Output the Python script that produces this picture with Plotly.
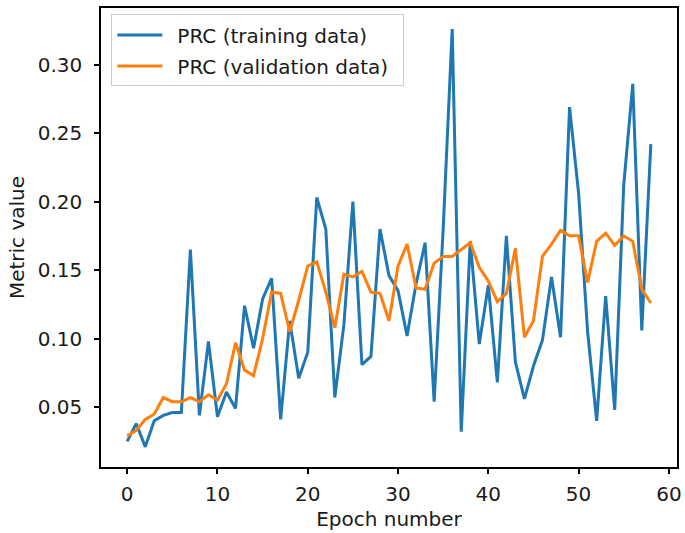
import plotly.graph_objects as go

epochs = list(range(59))

prc_train = [0.025, 0.038, 0.021, 0.040, 0.044, 0.046, 0.046, 0.165, 0.044, 0.098,
             0.043, 0.061, 0.049, 0.124, 0.093, 0.129, 0.144, 0.041, 0.113, 0.071,
             0.090, 0.203, 0.180, 0.057, 0.110, 0.200, 0.081, 0.087, 0.180, 0.146,
             0.135, 0.102, 0.140, 0.170, 0.054, 0.180, 0.326, 0.032, 0.171, 0.096,
             0.139, 0.068, 0.175, 0.083, 0.056, 0.080, 0.099, 0.145, 0.101, 0.269,
             0.206, 0.105, 0.040, 0.131, 0.048, 0.212, 0.286, 0.106, 0.242]

prc_val = [0.029, 0.033, 0.041, 0.045, 0.057, 0.054, 0.054, 0.057, 0.054, 0.059,
           0.055, 0.067, 0.097, 0.077, 0.073, 0.100, 0.134, 0.133, 0.105, 0.128,
           0.153, 0.156, 0.134, 0.108, 0.147, 0.145, 0.149, 0.134, 0.133, 0.113,
           0.153, 0.169, 0.137, 0.136, 0.155, 0.160, 0.160, 0.165, 0.170, 0.152,
           0.142, 0.127, 0.133, 0.166, 0.101, 0.113, 0.160, 0.169, 0.179, 0.175,
           0.175, 0.141, 0.171, 0.177, 0.168, 0.175, 0.171, 0.136, 0.126]

x_ticks = [0, 10, 20, 30, 40, 50, 60]
y_ticks = [0.05, 0.10, 0.15, 0.20, 0.25, 0.30]

fig = go.Figure()
fig.add_trace(go.Scatter(x=epochs, y=prc_train, mode="lines",
                         name="\u2002PRC (training data)", legendgroup="a",
                         line=dict(color="#1f77b4", width=3)))
fig.add_trace(go.Scatter(x=epochs, y=prc_val, mode="lines",
                         name="\u2002PRC (validation data)\u2002", legendgroup="b",
                         line=dict(color="#ff7f0e", width=3)))

txt_font = dict(family="DejaVu Sans", size=20, color="#1a1a1a")

axis_common = dict(showline=True, linecolor="black", linewidth=1.5, mirror=True,
                   ticks="outside", ticklen=5, tickwidth=1.5, tickcolor="black",
                   showgrid=False, zeroline=False, tickfont=txt_font)

fig.update_layout(
    width=685, height=533,
    margin=dict(l=101, r=3, t=8, b=66),
    paper_bgcolor="white", plot_bgcolor="white",
    font=txt_font,
    xaxis=dict(range=[-2.9, 60.9], tickvals=x_ticks, ticklabelstandoff=3,
               title=dict(text="Epoch number", standoff=7, font=txt_font),
               **axis_common),
    yaxis=dict(range=[0.0063, 0.3413], tickvals=y_ticks, tickformat=".2f",
               ticklabelstandoff=8,
               title=dict(text="Metric value", standoff=8, font=txt_font),
               **axis_common),
    legend=dict(x=0.018, y=0.986, xanchor="left", yanchor="top",
                bgcolor="rgba(255,255,255,0.8)", bordercolor="#cccccc",
                borderwidth=1, font=txt_font,
                itemwidth=45, tracegroupgap=2),
    showlegend=True,
)

fig.write_html("out.html", config={"displayModeBar": False},
               post_script="document.body.style.margin='0';document.body.style.padding='0';")
